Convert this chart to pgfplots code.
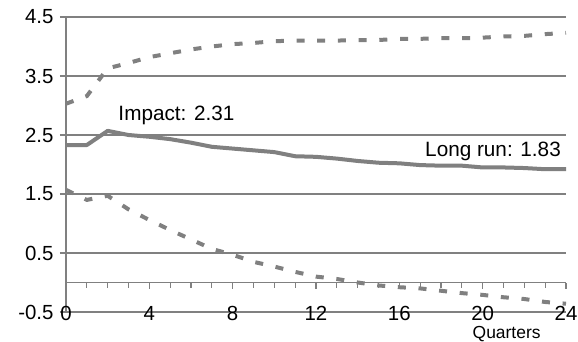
\documentclass[border=0pt]{standalone}
\usepackage{pgfplots}
\pgfplotsset{compat=1.18}
\usepackage{fontspec}
\setmainfont{Liberation Sans}
\definecolor{lg}{HTML}{808080}
\pgfplotstableread{
x mid up lo
0 2.33 3.03 1.57
1 2.33 3.16 1.40
2 2.57 3.63 1.47
3 2.50 3.72 1.24
4 2.47 3.82 1.06
5 2.43 3.885 0.89
6 2.37 3.95 0.73
7 2.30 4.00 0.57
8 2.27 4.04 0.47
9 2.24 4.06 0.35
10 2.21 4.09 0.27
11 2.14 4.10 0.18
12 2.13 4.10 0.10
13 2.10 4.10 0.06
14 2.06 4.11 0.00
15 2.03 4.11 -0.05
16 2.02 4.13 -0.08
17 1.99 4.13 -0.10
18 1.98 4.14 -0.14
19 1.98 4.14 -0.18
20 1.95 4.15 -0.21
21 1.95 4.17 -0.25
22 1.94 4.18 -0.28
23 1.92 4.21 -0.33
24 1.92 4.23 -0.36
}\datatable
\begin{document}
\begin{tikzpicture}
\begin{axis}[
  scale only axis, width=500bp, height=295bp,
  xmin=0, xmax=24, ymin=-0.5, ymax=4.5,
  axis x line=middle, axis y line=left,
  axis line style={-, lg, line width=1.2bp},
  hide obscured x ticks=false,
  xtick={0,4,...,24}, minor xtick={1,2,3,5,6,7,9,10,11,13,14,15,17,18,19,21,22,23},
  ytick={-0.5,0.5,1.5,2.5,3.5,4.5},
  yticklabels={-0.5,0.5,1.5,2.5,3.5,4.5},
  ymajorgrids, grid style={lg, line width=1.2bp},
  tick style={lg, line width=1.2bp},
  major tick length=6bp, minor tick length=5bp,
  tick align=outside,
  x tick label style={font=\fontsize{20.5}{24}\selectfont, anchor=center, yshift=-25bp},
  y tick label style={font=\fontsize{20.5}{24}\selectfont, xshift=-3bp},
  /pgf/number format/assume math mode=true,
  clip=false,
]
\addplot[lg, line width=4bp, line join=round] table[x=x, y=mid] {\datatable};
\addplot[lg, line width=4bp, dash pattern=on 8bp off 12.7bp] table[x=x, y=up] {\datatable};
\addplot[lg, line width=4bp, dash pattern=on 8bp off 12.7bp] table[x=x, y=lo] {\datatable};
\node[anchor=base west, inner sep=0, font=\fontsize{20.8}{24}\selectfont] at (axis cs:2.51,2.754) {Impact: 2.31};
\node[anchor=base east, inner sep=0, font=\fontsize{20.8}{24}\selectfont] at (axis cs:23.76,2.132) {Long run: 1.83};
\node[anchor=base, inner sep=0, font=\fontsize{17.5}{20}\selectfont] at (axis cs:21.15,-0.95) {Quarters};
\end{axis}
\pgfresetboundingbox
\path (-66bp,-30bp) rectangle (512bp,312bp);
\end{tikzpicture}
\end{document}
